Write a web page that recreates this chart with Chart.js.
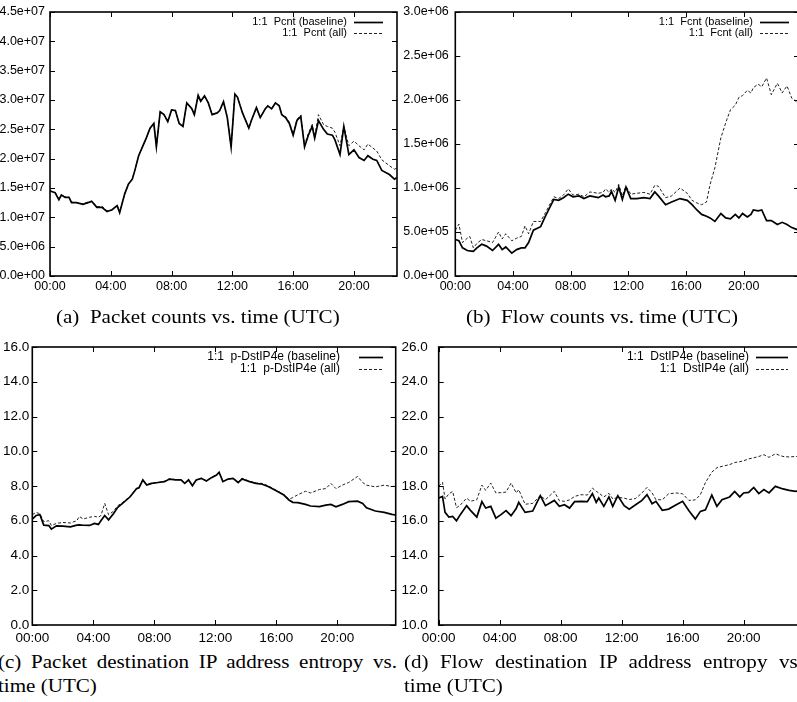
<!DOCTYPE html>
<html>
<head>
<meta charset="utf-8">
<script src="https://cdn.jsdelivr.net/npm/chart.js@4.4.1/dist/chart.umd.min.js"></script>
<style>
  html, body { margin: 0; padding: 0; background: #fff; }
  body { width: 797px; height: 702px; overflow: hidden; position: relative; }
  canvas { position: absolute; }
  .cap {
    position: absolute;
    font-family: "Liberation Serif", "Times New Roman", serif;
    font-size: 18px;
    line-height: 24px;
    color: #000;
    white-space: nowrap;
    transform-origin: 0 0;
    transform: scaleX(1.17);
  }
  .just { white-space: normal; text-align: justify; text-align-last: justify; }
</style>
</head>
<body>
<!-- each canvas has 20px of padding above its plot frame -->
<canvas id="pcnt" width="400" height="308" style="left:0;top:-8px"></canvas>
<canvas id="fcnt" width="410" height="308" style="left:397px;top:-8px"></canvas>
<canvas id="pdst" width="400" height="321" style="left:0;top:327.3px"></canvas>
<canvas id="fdst" width="410" height="321" style="left:397px;top:327.3px"></canvas>

<div class="cap" style="left:56px;top:305px">(a)&nbsp; Packet counts vs. time (UTC)</div>
<div class="cap" style="left:466px;top:305px">(b)&nbsp; Flow counts vs. time (UTC)</div>
<div class="cap just" style="left:-2px;top:650px;width:341px">(c) Packet destination IP address entropy vs.</div>
<div class="cap" style="left:-2px;top:674px">time (UTC)</div>
<div class="cap just" style="left:404px;top:650px;width:341px">(d) Flow destination IP address entropy vs.</div>
<div class="cap" style="left:404px;top:674px">time (UTC)</div>

<script>
// hour ticks shared by all four panels
const hourTicks = [0, 4, 8, 12, 16, 20];

// (a) packet counts, millions of packets
const pcntTimes = ['00:00','00:20','00:35','00:45','01:00','01:15','01:25','01:45','02:10','02:30',
  '02:45','03:05','03:25','03:45','04:05','04:25','04:35','04:55','05:10','05:25',
  '05:35','05:50','06:05','06:20','06:35','06:50','07:00','07:15','07:30','07:45',
  '08:00','08:15','08:30','08:45','09:00','09:20','09:30','09:45','09:55','10:10',
  '10:25','10:40','11:00','11:10','11:25','11:40','11:55','12:10','12:20','12:40',
  '13:05','13:15','13:35','13:50','14:10','14:20','14:35','14:50','15:05','15:15',
  '15:30','15:45','16:00','16:15','16:30','16:45','17:00','17:15','17:25','17:40',
  '18:00','18:15','18:35','18:45','19:05','19:20','19:40','20:00','20:20','20:40',
  '20:55','21:15','21:30','21:50','22:20','22:40','22:50'];
const pcntBaseline = [14.5, 14.2, 13.0, 13.8, 13.4, 13.4, 12.5, 12.5, 12.2, 12.5,
  12.7, 11.7, 11.7, 11.0, 11.3, 12.0, 10.8, 14.0, 15.7, 16.5,
  18.0, 20.5, 22.0, 23.5, 25.2, 26.0, 22.0, 28.0, 27.5, 26.3,
  28.3, 28.2, 26.0, 25.5, 29.5, 28.5, 27.5, 30.8, 29.8, 30.7,
  29.5, 27.5, 27.8, 28.2, 29.7, 27.0, 22.0, 31.0, 30.5, 27.8,
  25.2, 26.5, 28.7, 27.0, 28.5, 29.0, 28.5, 29.5, 29.0, 27.5,
  27.0, 26.0, 24.0, 26.5, 27.2, 22.0, 24.0, 25.5, 23.5, 26.5,
  25.0, 24.2, 24.0, 23.2, 20.7, 25.5, 20.7, 21.5, 20.2, 19.7,
  20.5, 19.9, 19.7, 18.0, 17.3, 16.5, 16.8];
const pcntAll = [14.5, 14.3, 13.1, 13.8, 13.5, 13.4, 12.6, 12.5, 12.3, 12.6,
  12.8, 11.8, 11.9, 11.1, 11.2, 12.1, 10.9, 14.0, 15.7, 16.6,
  18.0, 20.5, 22.0, 23.5, 25.2, 26.0, 22.0, 28.0, 27.5, 26.3,
  28.3, 28.2, 26.0, 25.5, 29.5, 28.5, 27.5, 30.8, 29.8, 30.7,
  29.5, 27.5, 27.8, 28.2, 29.7, 27.0, 22.0, 31.0, 30.5, 27.8,
  25.2, 26.5, 28.7, 27.0, 28.5, 29.0, 28.5, 29.5, 29.0, 27.5,
  27.2, 26.2, 24.2, 26.7, 27.4, 22.3, 24.3, 25.8, 23.8, 27.5,
  25.8, 25.5, 25.2, 24.5, 22.2, 25.5, 22.2, 23.0, 22.2, 21.5,
  22.5, 21.8, 21.3, 19.8, 18.8, 18.2, 18.4];
const pcntTicks = [0, 5e6, 10e6, 15e6, 20e6, 25e6, 30e6, 35e6, 40e6, 45e6];

// (b) flow counts, millions of flows
const fcntTimes = ['00:00','00:15','00:30','00:50','01:00','01:15','01:30','01:50','02:10','02:35',
  '03:00','03:15','03:30','03:55','04:15','04:35','04:50','05:05','05:25','05:55',
  '06:15','06:50','07:10','07:30','07:50','08:10','08:35','08:55','09:20','09:55',
  '10:15','10:25','10:40','10:50','11:05','11:20','11:35','11:50','12:10','12:35',
  '13:05','13:30','13:50','14:05','14:35','15:00','15:35','16:05','16:25','16:45',
  '17:05','17:25','17:40','18:00','18:25','18:45','19:05','19:25','19:40','19:55',
  '20:15','20:30','20:40','21:00','21:15','21:35','21:55','22:20','22:40','23:00',
  '23:20','23:40','23:50'];
const fcntBaseline = [0.415, 0.40, 0.32, 0.29, 0.285, 0.28, 0.32, 0.36, 0.34, 0.29,
  0.36, 0.30, 0.33, 0.26, 0.30, 0.32, 0.32, 0.38, 0.52, 0.56,
  0.68, 0.87, 0.86, 0.89, 0.93, 0.90, 0.91, 0.88, 0.91, 0.89,
  0.92, 0.90, 0.91, 0.96, 0.86, 1.01, 0.87, 1.01, 0.88, 0.88,
  0.89, 0.88, 0.955, 0.91, 0.81, 0.84, 0.88, 0.86, 0.81, 0.75,
  0.70, 0.68, 0.66, 0.62, 0.71, 0.66, 0.65, 0.70, 0.66, 0.71,
  0.67, 0.70, 0.75, 0.74, 0.75, 0.63, 0.63, 0.585, 0.61, 0.585,
  0.55, 0.53, 0.52];
const fcntAll = [0.52, 0.59, 0.38, 0.43, 0.45, 0.32, 0.37, 0.415, 0.40, 0.38,
  0.50, 0.42, 0.48, 0.40, 0.43, 0.45, 0.57, 0.48, 0.62, 0.62,
  0.72, 0.90, 0.88, 0.92, 0.99, 0.92, 0.93, 0.90, 0.955, 0.94,
  0.95, 0.99, 0.95, 0.99, 0.95, 1.04, 0.91, 1.02, 0.93, 0.94,
  0.95, 0.93, 1.03, 1.02, 0.89, 0.91, 1.00, 0.94, 0.86, 0.83,
  0.81, 0.84, 1.04, 1.23, 1.57, 1.74, 1.89, 1.94, 2.03, 2.05,
  2.11, 2.08, 2.14, 2.18, 2.15, 2.25, 2.06, 2.19, 2.08, 2.16,
  2.02, 1.98, 1.99];
const fcntTicks = [0, 0.5e6, 1.0e6, 1.5e6, 2.0e6, 2.5e6, 3.0e6];

// (c) packet destination IPv4 entropy
const pdstTimes = ['00:00','00:15','00:30','00:45','01:05','01:15','01:35','02:00','02:30','02:55',
  '03:05','03:20','03:45','04:05','04:20','04:30','04:45','05:00','05:20','05:35',
  '05:55','06:25','06:50','07:00','07:15','07:30','07:50','08:15','08:40','09:00',
  '09:25','09:45','10:00','10:15','10:30','10:45','11:05','11:25','11:45','12:05',
  '12:15','12:30','12:50','13:10','13:30','13:45','14:15','14:40','15:05','15:30',
  '16:00','16:30','16:50','17:05','17:25','17:55','18:15','18:50','19:15','19:35',
  '19:55','20:20','20:45','21:20','21:40','21:55','22:30','23:05','23:35','23:50'];
const pdstBaseline = [6.1, 6.3, 6.35, 5.75, 5.72, 5.52, 5.71, 5.69, 5.65, 5.75,
  5.76, 5.74, 5.73, 5.85, 5.79, 6.0, 6.3, 6.05, 6.42, 6.75,
  7.0, 7.38, 7.85, 7.9, 8.35, 8.06, 8.15, 8.2, 8.25, 8.4,
  8.35, 8.35, 8.15, 8.35, 8.02, 8.35, 8.44, 8.29, 8.48, 8.63,
  8.79, 8.25, 8.4, 8.44, 8.2, 8.4, 8.25, 8.15, 8.1, 7.96,
  7.73, 7.48, 7.19, 7.06, 7.04, 6.94, 6.85, 6.81, 6.9, 6.94,
  6.8, 6.94, 7.1, 7.13, 7.0, 6.75, 6.56, 6.48, 6.37, 6.33];
const pdstAll = [6.35, 6.48, 6.4, 5.95, 6.0, 5.72, 5.85, 5.9, 5.87, 6.0,
  6.25, 6.1, 6.2, 6.25, 6.2, 6.3, 7.0, 6.35, 6.55, 6.85,
  7.05, 7.4, 7.87, 7.9, 8.35, 8.1, 8.17, 8.2, 8.27, 8.42,
  8.35, 8.37, 8.17, 8.35, 8.05, 8.35, 8.45, 8.3, 8.5, 8.65,
  8.8, 8.25, 8.4, 8.44, 8.22, 8.45, 8.27, 8.17, 8.15, 8.0,
  7.75, 7.5, 7.25, 7.33, 7.5, 7.7, 7.6, 7.8, 7.85, 8.15,
  7.85, 8.05, 8.2, 8.55, 8.2, 8.05, 7.95, 8.05, 7.97, 8.0];
const pdstTicks = [0, 2, 4, 6, 8, 10, 12, 14, 16];

// (d) flow destination IPv4 entropy
const fdstTimes = ['00:00','00:15','00:25','00:40','00:55','01:10','01:25','01:50','02:05','02:30',
  '02:50','03:05','03:25','03:45','04:05','04:25','04:45','05:05','05:15','05:40',
  '06:10','06:40','07:00','07:35','07:55','08:15','08:35','08:55','09:20','09:45',
  '10:05','10:20','10:30','10:50','11:10','11:25','11:45','12:10','12:30','12:55',
  '13:20','13:40','14:00','14:15','14:40','15:05','15:35','16:00','16:25','16:50',
  '17:10','17:30','17:55','18:15','18:35','19:05','19:25','19:45','20:00','20:20',
  '20:40','21:00','21:20','21:40','22:05','22:35','23:00','23:25','23:45'];
const fdstBaseline = [17.31, 17.4, 16.48, 16.21, 16.25, 16.0, 16.35, 16.87, 16.6, 16.21,
  17.1, 16.73, 16.83, 16.15, 16.35, 16.58, 16.29, 16.7, 17.06, 16.48,
  16.56, 17.44, 16.87, 17.17, 16.83, 16.92, 16.73, 17.1, 17.12, 17.1,
  17.56, 17.06, 17.31, 16.83, 17.37, 16.83, 17.44, 16.87, 16.67, 16.92,
  17.17, 17.5, 16.98, 17.12, 16.6, 16.67, 16.92, 17.12, 16.58, 16.1,
  16.54, 16.63, 17.48, 16.83, 17.21, 17.37, 17.69, 17.37, 17.6, 17.63,
  17.92, 17.56, 17.79, 17.6, 17.98, 17.83, 17.75, 17.69, 17.75];
const fdstAll = [17.98, 18.21, 17.25, 17.55, 17.69, 16.75, 16.9, 17.3, 17.12, 17.21,
  18.05, 17.75, 18.17, 17.6, 17.62, 17.65, 18.17, 17.6, 17.79, 16.95,
  17.0, 17.45, 17.21, 17.69, 17.15, 17.12, 17.2, 17.4, 17.5, 17.48,
  17.88, 17.7, 17.6, 17.37, 17.58, 17.25, 17.35, 17.3, 17.22, 17.28,
  17.6, 17.92, 17.6, 17.21, 17.21, 17.55, 17.6, 17.55, 17.17, 17.2,
  17.5, 18.2, 18.8, 19.05, 19.13, 19.23, 19.35, 19.4, 19.45, 19.56,
  19.62, 19.7, 19.8, 19.65, 19.85, 19.7, 19.67, 19.7, 19.68];
const fdstTicks = [10, 12, 14, 16, 18, 20, 22, 24, 26];

const FONT = '"Liberation Sans", Arial, sans-serif';

function toHours(t) {
  const [h, m] = t.split(':').map(Number);
  return h + m / 60;
}

function points(times, values, unit) {
  return times.map((t, i) => ({ x: toHours(t), y: values[i] * unit }));
}

// 4.5e+07 style labels
function sci(v) {
  if (v === 0) return '0.0e+00';
  let e = Math.floor(Math.log10(v) + 1e-9);
  let m = v / Math.pow(10, e);
  return m.toFixed(1) + 'e+' + String(e).padStart(2, '0');
}

// frame with inward ticks on all four sides, plus the key in the top right corner
const gnuplotFrame = {
  id: 'gnuplotFrame',
  afterDatasetsDraw(chart, args, opts) {
    const { ctx, chartArea: a, scales: { x, y } } = chart;
    ctx.save();
    ctx.strokeStyle = '#000';
    ctx.lineWidth = 1;
    ctx.setLineDash([]);
    ctx.beginPath();
    x.ticks.forEach(t => {
      const px = Math.round(x.getPixelForValue(t.value)) + 0.5;
      ctx.moveTo(px, a.bottom); ctx.lineTo(px, a.bottom - 5);
      ctx.moveTo(px, a.top); ctx.lineTo(px, a.top + 5);
    });
    y.ticks.forEach(t => {
      const py = Math.round(y.getPixelForValue(t.value)) + 0.5;
      ctx.moveTo(a.left, py); ctx.lineTo(a.left + 5, py);
      ctx.moveTo(a.right, py); ctx.lineTo(a.right - 5, py);
    });
    ctx.stroke();
    ctx.lineWidth = 1.6;
    ctx.strokeRect(a.left, a.top, a.right - a.left, a.bottom - a.top);

    ctx.font = opts.keySize + 'px ' + FONT;
    ctx.fillStyle = '#000';
    ctx.textAlign = 'right';
    ctx.textBaseline = 'middle';
    chart.data.datasets.forEach((ds, i) => {
      const ly = a.top + opts.keyTop + i * opts.keyRow;
      const x1 = a.right - opts.keyMargin, x0 = x1 - opts.keyLen;
      ctx.fillText(ds.label, x0 - opts.keyGap, ly);
      ctx.lineWidth = ds.borderWidth;
      ctx.strokeStyle = ds.borderColor;
      ctx.setLineDash(ds.borderDash || []);
      ctx.beginPath();
      ctx.moveTo(x0, Math.round(ly) + 0.5);
      ctx.lineTo(x1, Math.round(ly) + 0.5);
      ctx.stroke();
    });
    ctx.restore();
  }
};

function makePanel(id, p) {
  const tickFont = { family: FONT, size: p.fontSize };
  new Chart(document.getElementById(id), {
    type: 'line',
    data: {
      datasets: [
        {
          label: p.labels[0],
          data: points(p.times, p.baseline, p.unit),
          borderColor: '#000',
          borderWidth: 1.7,
          borderDash: []
        },
        {
          label: p.labels[1],
          data: points(p.times, p.all, p.unit),
          borderColor: '#222',
          borderWidth: 1,
          borderDash: [3, 2]
        }
      ]
    },
    options: {
      responsive: false,
      animation: false,
      devicePixelRatio: 1,
      events: [],
      elements: { point: { radius: 0 }, line: { tension: 0, fill: false } },
      layout: { autoPadding: false, padding: { top: 20, right: p.padRight, left: 0, bottom: 0 } },
      plugins: {
        legend: { display: false },
        tooltip: { enabled: false },
        gnuplotFrame: p.key
      },
      scales: {
        x: {
          type: 'linear',
          min: 0,
          max: p.xMax,
          grid: { display: false, drawTicks: false },
          border: { display: false },
          afterBuildTicks: s => { s.ticks = hourTicks.map(v => ({ value: v })); },
          afterFit: s => { s.height = p.xHeight; },
          ticks: {
            autoSkip: false,
            maxRotation: 0,
            padding: p.xPad,
            color: '#000',
            font: tickFont,
            callback: v => String(v).padStart(2, '0') + ':00'
          }
        },
        y: {
          min: p.yTicks[0],
          max: p.yTicks[p.yTicks.length - 1],
          grid: { display: false, drawTicks: false },
          border: { display: false },
          afterBuildTicks: s => { s.ticks = p.yTicks.map(v => ({ value: v })); },
          afterFit: s => { s.width = p.yWidth; },
          ticks: {
            autoSkip: false,
            padding: p.yPad,
            color: '#000',
            font: tickFont,
            callback: p.yFormat
          }
        }
      }
    },
    plugins: [gnuplotFrame]
  });
}

makePanel('pcnt', {
  times: pcntTimes, baseline: pcntBaseline, all: pcntAll, unit: 1e6,
  labels: ['1:1  Pcnt (baseline)', '1:1  Pcnt (all)'],
  xMax: toHours('22:50'), yTicks: pcntTicks, yFormat: sci, fontSize: 12.5,
  yWidth: 50, yPad: 5, xHeight: 24, xPad: 3, padRight: 3,
  key: { keySize: 11, keyTop: 9.5, keyRow: 11, keyMargin: 14, keyLen: 29, keyGap: 7 }
});

makePanel('fcnt', {
  times: fcntTimes, baseline: fcntBaseline, all: fcntAll, unit: 1e6,
  labels: ['1:1  Fcnt (baseline)', '1:1  Fcnt (all)'],
  xMax: toHours('23:50'), yTicks: fcntTicks, yFormat: sci, fontSize: 12.5,
  yWidth: 58.3, yPad: 6.5, xHeight: 24, xPad: 3, padRight: 8,
  key: { keySize: 11, keyTop: 9.5, keyRow: 11, keyMargin: 10, keyLen: 29, keyGap: 7 }
});

makePanel('pdst', {
  times: pdstTimes, baseline: pdstBaseline, all: pdstAll, unit: 1,
  labels: ['1:1  p-DstIP4e (baseline)', '1:1  p-DstIP4e (all)'],
  xMax: toHours('23:50'), yTicks: pdstTicks, yFormat: v => v.toFixed(1), fontSize: 13.5,
  yWidth: 32.3, yPad: 3, xHeight: 23, xPad: 5, padRight: 4.3,
  key: { keySize: 12, keyTop: 10, keyRow: 11.5, keyMargin: 12.7, keyLen: 24, keyGap: 19 }
});

makePanel('fdst', {
  times: fdstTimes, baseline: fdstBaseline, all: fdstAll, unit: 1,
  labels: ['1:1  DstIP4e (baseline)', '1:1  DstIP4e (all)'],
  xMax: toHours('23:50'), yTicks: fdstTicks, yFormat: v => v.toFixed(1), fontSize: 13.5,
  yWidth: 41.7, yPad: 11, xHeight: 23, xPad: 5, padRight: 5,
  key: { keySize: 12, keyTop: 10, keyRow: 11.5, keyMargin: 14, keyLen: 32, keyGap: 7 }
});
</script>
</body>
</html>
